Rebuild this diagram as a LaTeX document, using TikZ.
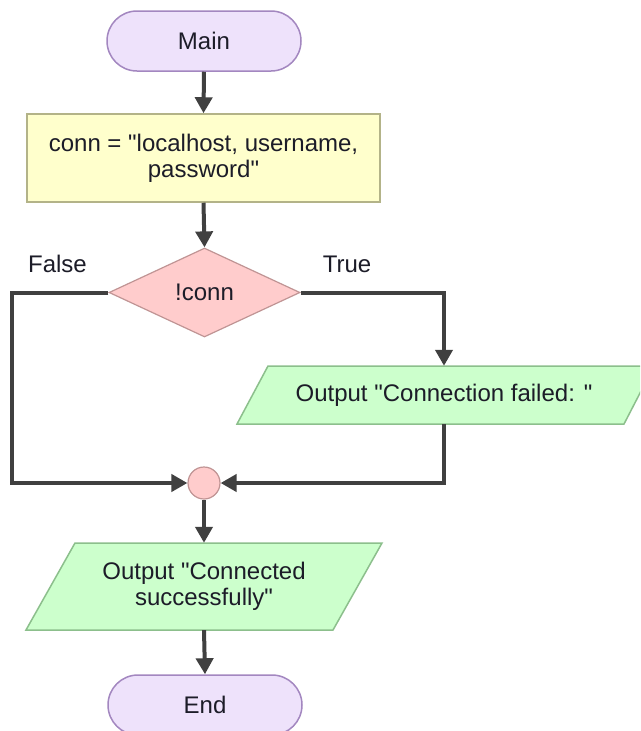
\documentclass[tikz,border=0pt]{standalone}
\usepackage{fontspec}
\setmainfont{Liberation Sans}[Ligatures=TeXOff]
\usetikzlibrary{shapes.geometric,arrows.meta}
\definecolor{termfill}{HTML}{EEE2FB}
\definecolor{termdraw}{HTML}{A387C0}
\definecolor{procfill}{HTML}{FFFFCC}
\definecolor{procdraw}{HTML}{B3B388}
\definecolor{decfill}{HTML}{FFCCCC}
\definecolor{decdraw}{HTML}{C09494}
\definecolor{iofill}{HTML}{CCFFCC}
\definecolor{iodraw}{HTML}{8CBF8C}
\definecolor{linecol}{HTML}{404040}
\definecolor{txtcol}{HTML}{1C1C28}
\tikzset{
  every node/.style={font=\fontsize{24}{26}\selectfont, text=txtcol},
  term/.style={draw=termdraw, fill=termfill, line width=1.5pt, rounded corners=30pt,
    minimum width=194pt, minimum height=60pt, inner sep=0pt},
  proc/.style={draw=procdraw, fill=procfill, line width=1.5pt,
    minimum width=353pt, minimum height=88pt, inner sep=0pt, align=center},
  dec/.style={diamond, draw=decdraw, fill=decfill, line width=1.2pt,
    minimum width=191pt, minimum height=89pt, inner sep=0pt},
  ioshape/.style={draw=iodraw, fill=iofill, line width=1.5pt},
  iotext/.style={inner sep=0pt, align=center},
  joint/.style={circle, draw=decdraw, fill=decfill, line width=1.2pt,
    minimum size=32pt, inner sep=0pt},
  lbl/.style={inner sep=0pt},
  flow/.style={draw=linecol, line width=4pt, -{Triangle[length=16pt,width=17pt]}},
  plain/.style={draw=linecol, line width=4pt}
}
\begin{document}
\begin{tikzpicture}[x=1pt,y=-1pt]
\useasboundingbox (0,0) rectangle (640,731);
\clip (0,0) rectangle (640,731);
\fill[white] (0,0) rectangle (640,731);

\node[term] (main) at (204,41) {Main};
\node[proc] (init) at (203.5,158) {conn = "localhost, username,\\password"};
\node[dec] (cond) at (204.5,292.5) {!conn};

\path[ioshape] (237,424) -- (268,366) -- (654,366) -- (624,424) -- cycle;
\node[iotext, minimum width=386pt, minimum height=58pt] (fail) at (444,395) {Output "Connection failed: "};

\node[joint] (join) at (204,483) {};

\path[ioshape] (26,630) -- (75,543) -- (382,543) -- (333,630) -- cycle;
\node[iotext, minimum width=307pt, minimum height=87pt] (succ) at (204,586.5) {Output "Connected\\successfully"};

\node[term] (endn) at (205,705) {End};

\node[lbl] (lfalse) at (57.5,264) {False};
\node[lbl] (ltrue) at (347,264) {True};

\coordinate (lc) at (12,292.5);

\draw[flow] (main.south) -- (init.north);
\draw[flow] (init.south) -- (cond.north);
\draw[flow] (cond.east) -| (fail.north);
\draw[flow] (cond.west) -- (lc) |- (join.west);
\draw[flow] (fail.south) |- (join.east);
\draw[flow] (join.south) -- (succ.north);
\draw[flow] (succ.south) -- (endn.north);
\end{tikzpicture}
\end{document}
